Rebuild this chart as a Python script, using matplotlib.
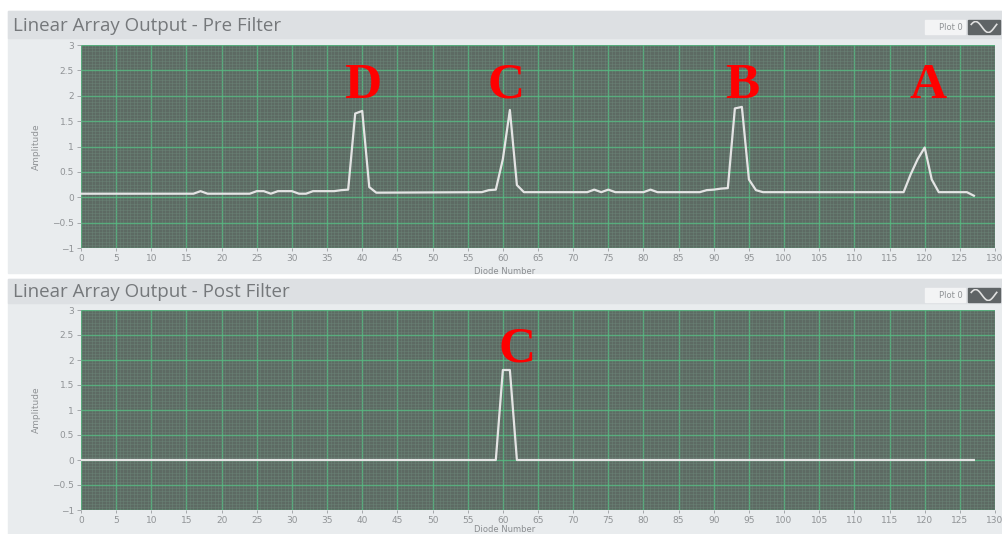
import numpy as np
import matplotlib
matplotlib.use("Agg")
import matplotlib.pyplot as plt
import matplotlib.patches as mpatches
from matplotlib.ticker import MultipleLocator

# ── data ──────────────────────────────────────────────────────────────────
diode = np.arange(0, 128)

pre_idx = [0, 16, 17, 18, 24, 25, 26, 27, 28, 30, 31, 32, 33, 36, 37, 38,
           39, 40, 41, 42, 57, 58, 59, 60, 61, 62, 63, 72, 73, 74, 75, 76,
           80, 81, 82, 88, 89, 90, 91, 92, 93, 94, 95, 96, 97, 117, 118, 119,
           120, 121, 122, 126, 127]
pre_val = [0.07, 0.07, 0.12, 0.07, 0.07, 0.12, 0.12, 0.07, 0.12, 0.12, 0.07, 0.07, 0.12, 0.12, 0.14, 0.15,
           1.65, 1.70, 0.20, 0.09, 0.10, 0.14, 0.15, 0.75, 1.72, 0.24, 0.10, 0.10, 0.15, 0.10, 0.15, 0.10,
           0.10, 0.15, 0.10, 0.10, 0.14, 0.15, 0.17, 0.18, 1.75, 1.78, 0.35, 0.14, 0.10, 0.10, 0.45, 0.75,
           0.98, 0.35, 0.10, 0.10, 0.03]
pre_filter = np.interp(diode, pre_idx, pre_val)

post_filter = np.zeros(len(diode))
post_filter[60] = 1.8
post_filter[61] = 1.8

pre_labels = ["D", "C", "B", "A"]
pre_label_x = [40, 60.5, 94, 120.5]
post_labels = ["C"]
post_label_x = [62]

titles = ["Linear Array Output - Pre Filter", "Linear Array Output - Post Filter"]

# ── figure ────────────────────────────────────────────────────────────────
W, H = 1002, 534
fig = plt.figure(figsize=(W / 100, H / 100), dpi=100)
fig.patch.set_facecolor("white")

def px(x, y, w, h):
    return [x / W, 1 - (y + h) / H, w / W, h / H]

def add_rect(x, y, w, h, color):
    fig.patches.append(mpatches.Rectangle((x / W, 1 - (y + h) / H), w / W, h / H,
                                          transform=fig.transFigure, color=color,
                                          zorder=-5))

# (panel top, axes top, axes bottom, xlabel y)
panels = [(11, 45, 248, 271), (279, 310, 510, 529)]
for i, (top, ax_top, ax_bot, lab_y) in enumerate(panels):
    add_rect(8, top, 994, 262 if i == 0 else 255, "#e9ecee")
    add_rect(8, top, 994, 27 if i == 0 else 24, "#dde0e3")
    ty = top + (15 if i == 0 else 13)
    fig.text(13 / W, 1 - ty / H, titles[i], fontsize=13.5, color="#75787b",
             va="center", ha="left", family="Open Sans")
    # legend box
    add_rect(925, top + 9, 40, 14, "#f3f4f5")
    fig.text(951 / W, 1 - (top + 16) / H, "Plot 0", fontsize=6, color="#909396",
             va="center", ha="center")
    add_rect(968, top + 9, 32, 14, "#5f6466")
    lg = fig.add_axes(px(970, top + 10, 28, 12))
    lg.axis("off")
    t = np.linspace(0, 1, 30)
    lg.plot(t, np.sin(t * 2 * np.pi + 0.5), color="#e0e0e0", lw=1.2)
    fig.text(505 / W, 1 - lab_y / H, "Diode Number", fontsize=6, color="#8a8d90",
             ha="center", va="center")

series = [pre_filter, post_filter]
labels = [(pre_labels, pre_label_x), (post_labels, post_label_x)]
for i, (top, ax_top, ax_bot, lab_y) in enumerate(panels):
    ax = fig.add_axes(px(81, ax_top, 914, ax_bot - ax_top))
    ax.set_facecolor("#5d6a63")
    ax.set_xlim(0, 130)
    ax.set_ylim(-1, 3)
    ax.xaxis.set_major_locator(MultipleLocator(5))
    ax.yaxis.set_major_locator(MultipleLocator(0.5))
    ax.xaxis.set_minor_locator(MultipleLocator(0.5))
    ax.yaxis.set_minor_locator(MultipleLocator(0.0625))
    ax.grid(which="minor", color="#6e8a7c", lw=0.5, alpha=0.55)
    ax.grid(which="major", color="#58b882", lw=1.0, alpha=0.85)
    ax.set_axisbelow(True)
    for s in ax.spines.values():
        s.set_visible(False)
    ax.tick_params(which="minor", length=0)
    ax.tick_params(which="major", length=3, width=0.6, color="#9a9da0",
                   labelcolor="#909396", labelsize=6.5, pad=2)
    ax.tick_params(axis="x", length=2.5, pad=1.5)
    ax.set_yticks(np.arange(-1, 3.01, 0.5))
    ax.set_yticklabels(["\u22121", "\u22120.5", "0", "0.5", "1", "1.5", "2", "2.5", "3"])
    ax.set_ylabel("Amplitude", fontsize=6.5, color="#909396", labelpad=8)

    ax.plot(diode, series[i], color="#e4e4e4", lw=1.6, zorder=5)

    names, xs = labels[i]
    for name, x in zip(names, xs):
        ax.text(x, 2.2, name, fontsize=37, color="#ff0000", fontweight="bold",
                family="Liberation Serif", ha="center", va="center", zorder=6)

fig.savefig("out.png", dpi=100, facecolor=fig.get_facecolor())
